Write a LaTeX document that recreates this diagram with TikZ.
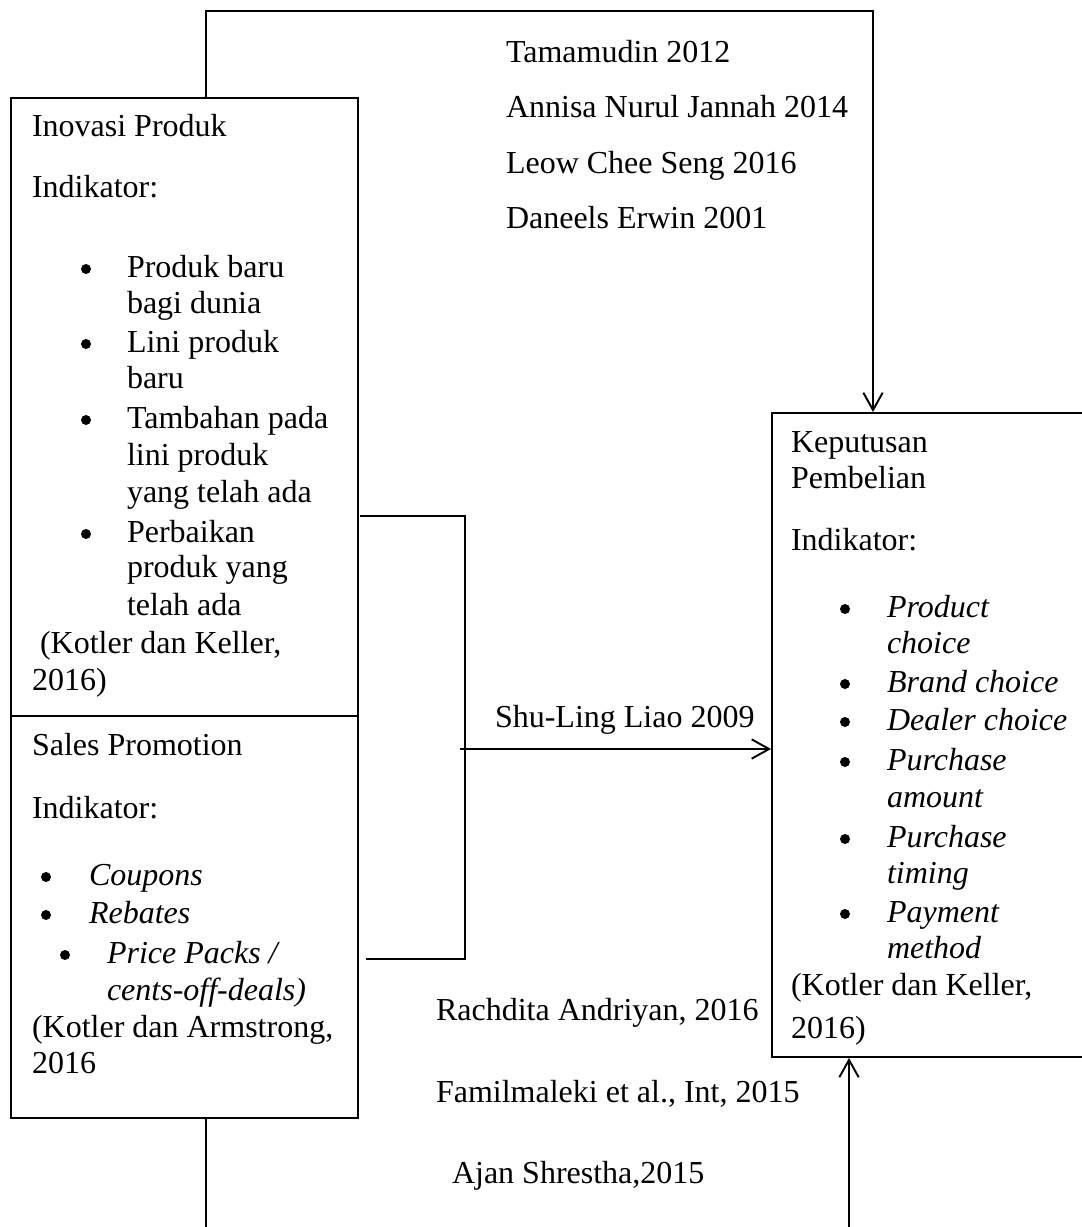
\documentclass[tikz,border=0pt]{standalone}
\usepackage{fontspec}
\setmainfont{Liberation Serif}
\usetikzlibrary{arrows.meta}
\begin{document}
\begin{tikzpicture}[x=0.75pt,y=-0.75pt,
  ln/.style={line width=1.45pt, draw=black},
  arr/.style={ln, -{Straight Barb[length=13pt,width=14.5pt,line width=1.45pt]}},
  box/.style={ln, rectangle, inner sep=0pt, anchor=north west},
  txt/.style={anchor=base west, inner sep=0pt, outer sep=0pt, font=\fontsize{24pt}{28pt}\selectfont},
  itx/.style={txt, font=\fontsize{24pt}{28pt}\selectfont\itshape},
  bltdot/.style={fill=black}]
\useasboundingbox (0,0) rectangle (1081,1227);

% boxes
\node[box, minimum width=347*0.75pt, minimum height=618*0.75pt] (inov) at (10,97) {};
\node[box, minimum width=347*0.75pt, minimum height=402*0.75pt] (sales) at (10,715) {};
\node[box, minimum width=313*0.75pt, minimum height=644*0.75pt] (kep) at (771,412) {};

% connectors
\coordinate (topL) at (206,11);
\coordinate (topR) at (873,11);
\draw[arr] (inov.north -| topL) -- (topL) -- (topR) -- (topR |- kep.north);

\coordinate (bT) at (465,516);
\coordinate (bB) at (465,959);
\coordinate (bTs) at (360,516);
\coordinate (bBs) at (366,959);
\draw[ln] (bTs) -- (bT) -- (bB) -- (bBs);
\coordinate (mid) at (460,749);
\draw[arr] (mid) -- (kep.west |- mid);

\coordinate (botL) at (206,1232);
\coordinate (botR) at (849,1232);
\draw[ln] (sales.south -| botL) -- (botL);
\draw[arr] (botR) -- (botR |- kep.south);

% top citations
\node[txt] (c1) at (506,63) {Tamamudin 2012};
\node[txt] (c2) at (506,118) {Annisa Nurul Jannah 2014};
\node[txt] (c3) at (506,173) {Leow Chee Seng 2016};
\node[txt] (c4) at (506,228) {Daneels Erwin 2001};

% Inovasi Produk
\node[txt] (i1) at (32,137) {Inovasi Produk};
\node[txt] (i2) at (32,197) {Indikator:};
\node[txt] (i3) at (127,277) {Produk baru};
\node[txt] (i4) at (127,313) {bagi dunia};
\node[txt] (i5) at (127,352) {Lini produk};
\node[txt] (i6) at (127,388) {baru};
\node[txt] (i7) at (127,428) {Tambahan pada};
\node[txt] (i8) at (127,465) {lini produk};
\node[txt] (i9) at (127,502) {yang telah ada};
\node[txt] (i10) at (127,542) {Perbaikan};
\node[txt] (i11) at (127,577) {produk yang};
\node[txt] (i12) at (127,615) {telah ada};
\node[txt] (i13) at (40,653) {(Kotler dan Keller,};
\node[txt] (i14) at (32,690) {2016)};
\coordinate (ib1) at (86,269);
\coordinate (ib2) at (86,344);
\coordinate (ib3) at (86,420);
\coordinate (ib4) at (86,534);

% Sales Promotion
\node[txt] (s1) at (32,755) {Sales Promotion};
\node[txt] (s2) at (32,818) {Indikator:};
\node[itx] (s3) at (89,885) {Coupons};
\node[itx] (s4) at (89,923) {Rebates};
\node[itx] (s5) at (107,963) {Price Packs /};
\node[itx] (s6) at (107,1000) {cents-off-deals)};
\node[txt] (s7) at (32,1037) {(Kotler dan Armstrong,};
\node[txt] (s8) at (32,1073) {2016};
\coordinate (sb1) at (46,877);
\coordinate (sb2) at (46,915);
\coordinate (sb3) at (65,955);

% Keputusan Pembelian
\node[txt] (k1) at (791,452) {Keputusan};
\node[txt] (k2) at (791,488) {Pembelian};
\node[txt] (k3) at (791,550) {Indikator:};
\node[itx] (k4) at (887,617) {Product};
\node[itx] (k5) at (887,653) {choice};
\node[itx] (k6) at (887,692) {Brand choice};
\node[itx] (k7) at (887,730) {Dealer choice};
\node[itx] (k8) at (887,770) {Purchase};
\node[itx] (k9) at (887,807) {amount};
\node[itx] (k10) at (887,847) {Purchase};
\node[itx] (k11) at (887,883) {timing};
\node[itx] (k12) at (887,922) {Payment};
\node[itx] (k13) at (887,958) {method};
\node[txt] (k14) at (791,995) {(Kotler dan Keller,};
\node[txt] (k15) at (791,1038) {2016)};
\coordinate (kb1) at (845,609);
\coordinate (kb2) at (845,684);
\coordinate (kb3) at (845,722);
\coordinate (kb4) at (845,762);
\coordinate (kb5) at (845,839);
\coordinate (kb6) at (845,914);

% bullets
\foreach \b in {ib1,ib2,ib3,ib4,sb1,sb2,sb3,kb1,kb2,kb3,kb4,kb5,kb6}
  \fill[bltdot] (\b) circle (5);

% middle citations
\node[txt] (m1) at (495,727) {Shu-Ling Liao 2009};
\node[txt] (m2) at (436,1020) {Rachdita Andriyan, 2016};
\node[txt] (m3) at (436,1102) {Familmaleki et al., Int, 2015};
\node[txt] (m4) at (452,1183) {Ajan Shrestha,2015};
\end{tikzpicture}
\end{document}
